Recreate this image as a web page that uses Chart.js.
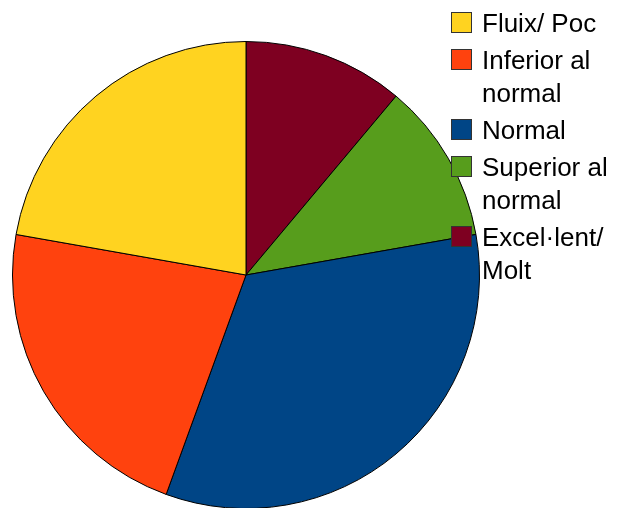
<!DOCTYPE html>
<html>
<head>
<meta charset="utf-8">
<script src="https://cdn.jsdelivr.net/npm/chart.js@4"></script>
<style>
  body { margin: 0; width: 617px; height: 508px; overflow: hidden; background: #fff; position: relative; }
  #wrap { position: absolute; left: 0; top: 0; width: 617px; height: 520px; }
  #legenda { position: absolute; left: 451px; top: 7px; width: 166px; font-family: "Liberation Sans", Arial, sans-serif; font-size: 26px; line-height: 33px; color: #000; }
  .item { position: relative; padding-left: 31px; margin-bottom: 4px; }
  .caixa { position: absolute; left: 0; top: 5px; width: 19px; height: 19px; border: 1px solid #333; }
</style>
</head>
<body>
<div id="wrap"><canvas id="grafic"></canvas></div>
<div id="legenda"></div>
<script>
// Categories, en l'ordre de la llegenda
const categories = ["Fluix/ Poc", "Inferior al normal", "Normal", "Superior al normal", "Excel·lent/ Molt"];
const valors = [4, 4, 6, 2, 2];
const colors = ["#FFD320", "#FF420E", "#004586", "#579D1C", "#7E0021"];

// El pastís va en sentit contrari, així que invertim l'ordre per a Chart.js
const etiquetesPastis = categories.slice().reverse();
const valorsPastis = valors.slice().reverse();
const colorsPastis = colors.slice().reverse();

const ctx = document.getElementById("grafic").getContext("2d");
const grafic = new Chart(ctx, {
    type: "pie",
    data: {
        labels: etiquetesPastis,
        datasets: [{
            data: valorsPastis,
            backgroundColor: colorsPastis,
            borderColor: "#000",
            borderWidth: 1
        }]
    },
    options: {
        responsive: true,
        maintainAspectRatio: false,
        animation: false,
        layout: { padding: { left: 12, top: 41, right: 137, bottom: 11 } },
        plugins: {
            legend: { display: false },
            tooltip: { enabled: false }
        }
    }
});

// Llegenda en HTML perquè el text es parteix en dues línies
const legenda = document.getElementById("legenda");
categories.forEach((cat, i) => {
    const item = document.createElement("div");
    item.className = "item";
    item.innerHTML = `<span class="caixa" style="background:${colors[i]}"></span>${cat}`;
    legenda.appendChild(item);
});
</script>
</body>
</html>
